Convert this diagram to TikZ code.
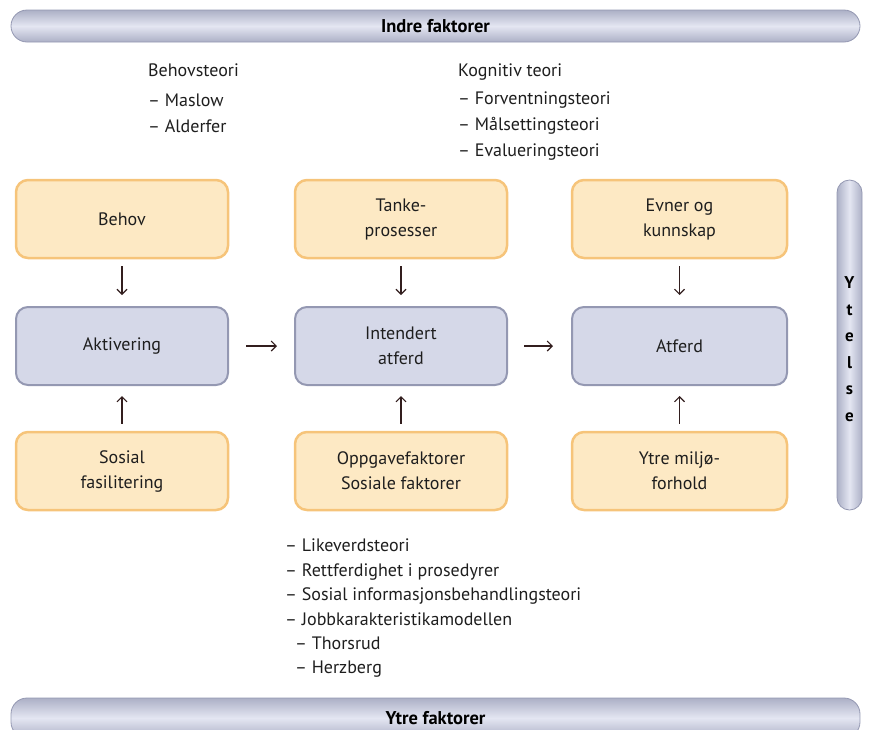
\documentclass[tikz,border=0pt]{standalone}
\usepackage{fontspec}
\setmainfont{PT Sans}
\usetikzlibrary{arrows.meta, positioning}
\definecolor{boxorange}{RGB}{253,233,196}
\definecolor{edgeorange}{RGB}{246,196,122}
\definecolor{boxblue}{RGB}{213,216,232}
\definecolor{edgeblue}{RGB}{148,152,178}
\definecolor{barmid}{RGB}{228,230,242}
\definecolor{baredge}{RGB}{172,176,198}
\definecolor{txtgray}{RGB}{30,30,30}
\definecolor{arrowdark}{RGB}{50,30,30}

\tikzset{
  orangebox/.style={draw=edgeorange, fill=boxorange, line width=2.5pt, rounded corners=12pt,
    minimum width=212pt, minimum height=78pt, align=center, text=txtgray,
    font=\fontsize{18}{25}\selectfont},
  bluebox/.style={orangebox, draw=edgeblue, fill=boxblue, line width=2pt},
  flow/.style={-{Straight Barb[length=5pt,width=10pt]}, arrowdark, line width=1.1pt},
  theorylist/.style={anchor=north west, align=left, text=txtgray, inner sep=0pt,
    font=\fontsize{18}{26}\selectfont},
  factorbar/.style={draw=edgeblue, line width=0.8pt, top color=baredge, bottom color=baredge,
    middle color=barmid, text=black, font=\bfseries\fontsize{18.5}{20}\selectfont}
}

\begin{document}
\begin{tikzpicture}[x=1pt, y=-1pt]
  \useasboundingbox (0,0) rectangle (869,729);

  % Indre / ytre faktorer
  \node[factorbar, rounded corners=16pt, minimum width=849pt, minimum height=32pt] (indre) at (435.5,26) {Indre faktorer};
  \node[factorbar, rounded corners=16pt, minimum width=849pt, minimum height=40pt] (ytrebar) at (435.5,718) {Ytre faktorer};

  % Ytelse
  \node[factorbar, shading angle=90, rounded corners=12.5pt, minimum width=25pt, minimum height=330pt,
    align=center, font=\bfseries\fontsize{17}{26.5}\selectfont] (ytelse) at (849.5,345) {\\[-6pt]Y\\t\\e\\l\\s\\e};

  % theories
  \node[theorylist] (behovteori) at (148,64) {Behovsteori\\[4pt]– Maslow\\– Alderfer};
  \node[theorylist] (kognitiv) at (458,64) {Kognitiv teori\\[2pt]– Forventningsteori\\– Målsettingsteori\\– Evalueringsteori};
  \node[theorylist, font=\fontsize{18}{24.4}\selectfont] (likeverd) at (285,539) {– Likeverdsteori\\– Rettferdighet i prosedyrer\\– Sosial informasjonsbehandlingsteori\\– Jobbkarakteristikamodellen\\\hspace*{10pt}– Thorsrud\\\hspace*{10pt}– Herzberg};

  % boxes
  \node[orangebox] (behov) at (122,219) {Behov};
  \node[orangebox] (tanke) at (401,219) {Tanke-\\prosesser};
  \node[orangebox, minimum width=215pt] (evner) at (679.5,219) {Evner og\\kunnskap};

  \node[bluebox] (aktiv) at (122,346) {Aktivering};
  \node[bluebox] (intend) at (401,346) {Intendert\\atferd};
  \node[bluebox, minimum width=215pt] (atferd) at (679.5,346) {Atferd};

  \node[orangebox] (sosial) at (122,471) {Sosial\\fasilitering};
  \node[orangebox] (oppgave) at (401,471) {Oppgavefaktorer\\Sosiale faktorer};
  \node[orangebox, minimum width=215pt] (ytre) at (679.5,471) {Ytre miljø-\\forhold};

  % arrows
  \draw[flow, shorten <=17pt, shorten >=17pt] (aktiv) -- (intend);
  \draw[flow, shorten <=16pt, shorten >=18pt] (intend) -- (atferd);
  \foreach \a/\b in {behov/aktiv, tanke/intend, evner/atferd}
    \draw[flow, shorten <=7pt, shorten >=11pt] (\a) -- (\b);
  \foreach \a/\b in {sosial/aktiv, oppgave/intend, ytre/atferd}
    \draw[flow, shorten <=7pt, shorten >=10pt] (\a) -- (\b);
\end{tikzpicture}
\end{document}
